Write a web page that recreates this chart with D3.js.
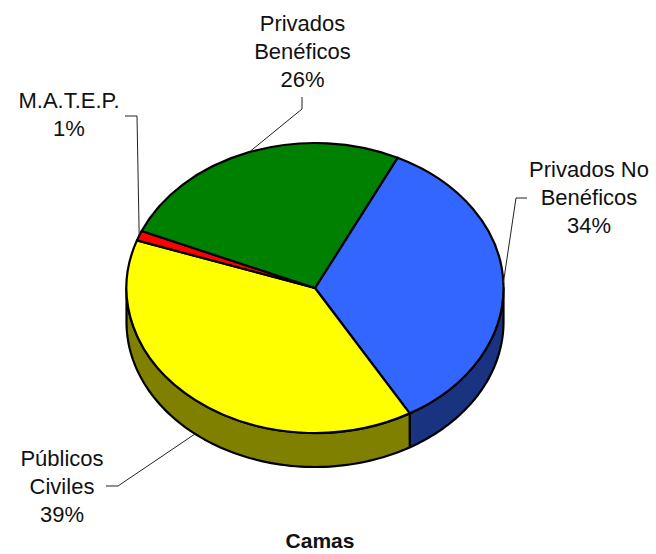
<!DOCTYPE html>
<html>
<head>
<meta charset="utf-8">
<script src="https://cdn.jsdelivr.net/npm/d3@7"></script>
<style>
    html, body { margin: 0; padding: 0; background: #fff; }
    svg { display: block; }
    text { font-family: "Liberation Sans", Arial, sans-serif; fill: #111; }
</style>
</head>
<body>
<div id="chart"></div>
<script>
// values, clockwise from the blue slice
const categories = ["Privados No Benéficos", "Públicos Civiles", "M.A.T.E.P.", "Privados Benéficos"]
const values = [34.4, 38.7, 1.1, 25.8]
const percentLabels = ["34%", "39%", "1%", "26%"]
const labelLines = [["Privados No", "Benéficos"], ["Públicos", "Civiles"], ["M.A.T.E.P."], ["Privados", "Benéficos"]]
const title = "Camas"

const topColors = ["#3366ff", "#ffff00", "#ff0000", "#008000"]
const sideColors = ["#1a3380", "#808000", "#800000", "#004000"]

const width = 656, height = 554
const cx = 315, cy = 288, rx = 188.5, ry = 145, depth = 34
const firstAngle = 26 * Math.PI / 180

// where each label goes: text centre, first baseline, and the leader elbow
const labelLayout = [
    { x: 589, y: 177, from: [527, 198], elbow: [516, 198] },
    { x: 62, y: 466, from: [106, 486], elbow: [118, 486] },
    { x: 69, y: 108, from: [125, 116], elbow: [137, 116] },
    { x: 302.5, y: 31, from: [302, 97], elbow: [302, 109] }
]

const svg = d3.select("#chart")
    .append("svg")
    .attr("width", width)
    .attr("height", height)

const pie = d3.pie().sort(null).startAngle(firstAngle).endAngle(firstAngle + 2 * Math.PI)
const arcs = pie(values)

// angle is clockwise from the top, same as d3.pie
const px = a => cx + rx * Math.sin(a)
const py = a => cy - ry * Math.cos(a)

// side wall, only the part of the rim facing the viewer
const line = d3.line()
function sidePath(d) {
    let a0 = Math.max(d.startAngle, Math.PI / 2)
    let a1 = Math.min(d.endAngle, 3 * Math.PI / 2)
    if (a1 <= a0) return null
    let rim = d3.range(0, 81).map(i => a0 + (a1 - a0) * i / 80)
    let pts = rim.map(a => [px(a), py(a)])
    let lower = rim.slice().reverse().map(a => [px(a), py(a) + depth])
    return line(pts.concat(lower)) + "Z"
}

svg.selectAll(".side")
    .data(arcs)
    .enter()
    .append("path")
    .attr("class", "side")
    .attr("d", sidePath)
    .attr("fill", (d, i) => sideColors[i])
    .attr("stroke", "#000")
    .attr("stroke-width", 2.2)
    .attr("stroke-linejoin", "round")

// top face: a normal arc squashed into an ellipse
const arc = d3.arc().innerRadius(0).outerRadius(rx)
svg.append("g")
    .attr("transform", "translate(" + cx + "," + cy + ") scale(1," + (ry / rx) + ")")
    .selectAll(".slice")
    .data(arcs)
    .enter()
    .append("path")
    .attr("class", "slice")
    .attr("d", arc)
    .attr("fill", (d, i) => topColors[i])
    .attr("stroke", "#000")
    .attr("stroke-width", 2.2)
    .attr("stroke-linejoin", "round")
    .attr("vector-effect", "non-scaling-stroke")

// leader lines go to the middle of each slice's rim
function anchor(d) {
    let mid = (d.startAngle + d.endAngle) / 2
    let wall = Math.cos(mid) < 0 && Math.sin(mid) < -0.1 ? depth : 0
    return [px(mid), py(mid) + wall]
}

svg.selectAll(".leader")
    .data(arcs)
    .enter()
    .append("path")
    .attr("class", "leader")
    .attr("d", (d, i) => line([labelLayout[i].from, labelLayout[i].elbow, anchor(d)]))
    .attr("fill", "none")
    .attr("stroke", "#222")
    .attr("stroke-width", 1)

categories.forEach(function (name, i) {
    let rows = labelLines[i].concat(percentLabels[i])
    svg.append("text")
        .attr("class", "label")
        .attr("data-name", name)
        .attr("text-anchor", "middle")
        .attr("font-size", 22)
        .selectAll("tspan")
        .data(rows)
        .enter()
        .append("tspan")
        .attr("x", labelLayout[i].x)
        .attr("y", (d, j) => labelLayout[i].y + j * 27.8)
        .text(d => d)
})

svg.append("text")
    .attr("x", 320)
    .attr("y", 548)
    .attr("text-anchor", "middle")
    .attr("font-size", 21)
    .attr("font-weight", "bold")
    .text(title)
</script>
</body>
</html>
